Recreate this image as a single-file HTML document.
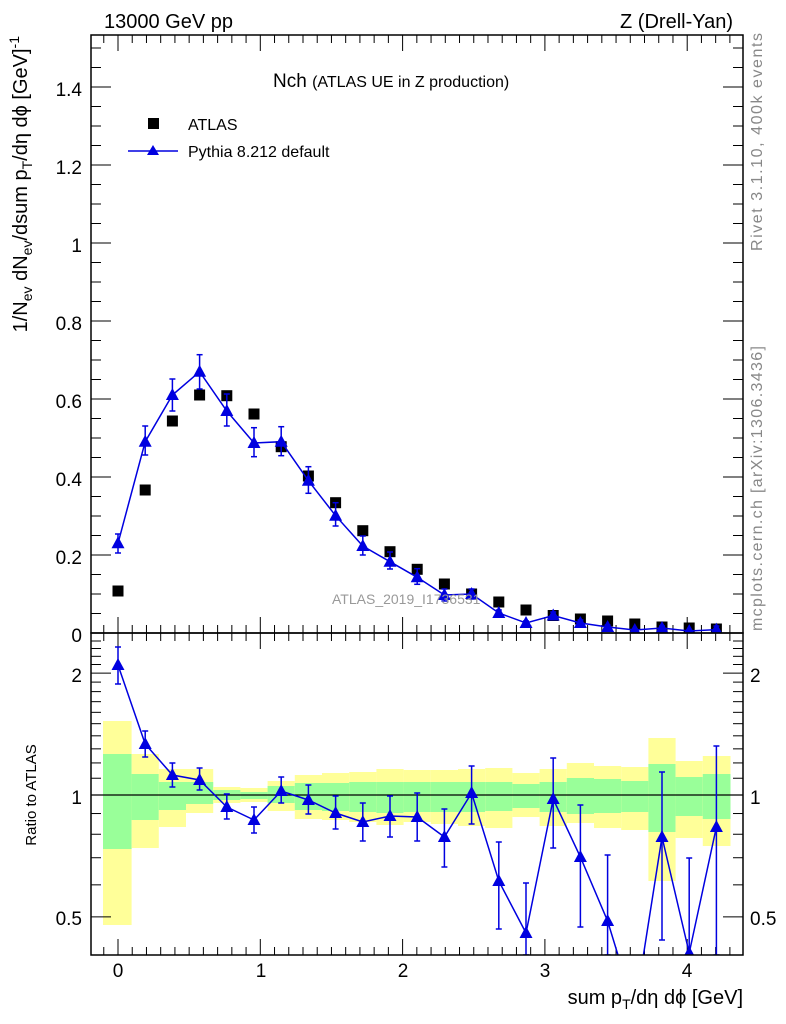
<!DOCTYPE html>
<html><head><meta charset="utf-8"><style>
html,body{margin:0;padding:0;background:#fff;}
svg{display:block;font-family:"Liberation Sans",sans-serif;}
</style></head><body>
<svg id="s" width="786" height="1024" xmlns="http://www.w3.org/2000/svg">
<defs>
<clipPath id="cr"><rect x="91" y="633" width="652" height="322"/></clipPath>
<clipPath id="cm"><rect x="91" y="35" width="652" height="598"/></clipPath>
</defs>
<g id="bands"></g>
<g id="ticks" stroke="#000" stroke-width="1"></g>
<line x1="91" y1="795" x2="743" y2="795" stroke="#000" stroke-width="1.2"/>
<g id="data"></g>
<rect x="91" y="35" width="652" height="598" fill="none" stroke="#000" stroke-width="1.5"/>
<rect x="91" y="633" width="652" height="322" fill="none" stroke="#000" stroke-width="1.5"/>
<text x="104" y="28" font-size="20">13000 GeV pp</text>
<text x="733" y="28" font-size="20" text-anchor="end">Z (Drell-Yan)</text>
<text x="273" y="87" font-size="19">Nch <tspan font-size="16">(ATLAS UE in Z production)</tspan></text>
<rect x="148" y="118" width="11" height="11" fill="#000"/>
<text x="188" y="130" font-size="16">ATLAS</text>
<line x1="128" y1="151" x2="178" y2="151" stroke="#0000e0" stroke-width="1.5"/>
<polygon points="153,145 159,155 147,155" fill="#0000e0"/>
<text x="188" y="157" font-size="16">Pythia 8.212 default</text>
<text x="332" y="604" font-size="14" fill="#999">ATLAS_2019_I1736531</text>
<g font-size="19" text-anchor="end">
<text x="82" y="642">0</text><text x="82" y="564">0.2</text><text x="82" y="486">0.4</text><text x="82" y="408">0.6</text><text x="82" y="330">0.8</text><text x="82" y="252">1</text><text x="82" y="174">1.2</text><text x="82" y="96">1.4</text>
<text x="82" y="682">2</text><text x="82" y="804">1</text><text x="82" y="925">0.5</text>
</g>
<g font-size="19">
<text x="750" y="682">2</text><text x="750" y="804">1</text><text x="750" y="925">0.5</text>
</g>
<g font-size="19" text-anchor="middle">
<text x="118" y="977">0</text><text x="261" y="977">1</text><text x="403" y="977">2</text><text x="545" y="977">3</text><text x="687" y="977">4</text>
</g>
<text x="743" y="1004" font-size="20" text-anchor="end">sum p<tspan font-size="14" dy="5">T</tspan><tspan dy="-5">/dη dϕ [GeV]</tspan></text>
<text transform="translate(27,36) rotate(-90)" font-size="20" text-anchor="end">1/N<tspan font-size="14" dy="5">ev</tspan><tspan dy="-5"> dN</tspan><tspan font-size="14" dy="5">ev</tspan><tspan dy="-5">/dsum p</tspan><tspan font-size="14" dy="5">T</tspan><tspan dy="-5">/dη dϕ  [GeV]</tspan><tspan font-size="14" dy="-8">-1</tspan></text>
<text transform="translate(36,795) rotate(-90)" font-size="15" text-anchor="middle">Ratio to ATLAS</text>
<text transform="translate(762,251) rotate(-90)" font-size="16" fill="#888" textLength="218" lengthAdjust="spacing">Rivet 3.1.10,  400k events</text>
<text transform="translate(762,631) rotate(-90)" font-size="16" fill="#888" textLength="285" lengthAdjust="spacing">mcplots.cern.ch [arXiv:1306.3436]</text>
</svg>
<script>
var NS="http://www.w3.org/2000/svg";
function el(p,t,a){var e=document.createElementNS(NS,t);for(var k in a)e.setAttribute(k,a[k]);p.appendChild(e);return e;}
var B=document.getElementById("bands"),T=document.getElementById("ticks"),D=document.getElementById("data");
var xs=[];for(var i=0;i<23;i++)xs.push(118+27.2*i);
var edges=[103];for(var i=0;i<22;i++)edges.push((xs[i]+xs[i+1])/2);edges.push(730.5);
var bd=[[721,754,849,925],[754,774,820,848],[769,782,810,827],[769,782,804,813],[787,790,800,803],[788,792,799,802],[781,786,803,811],[775,783,810,819],[773,783,811,820],[772,782,812,822],[769,782,813,825],[770,782,812,822],[770,782,812,824],[769,782,812,826],[768,782,811,828],[773,784,808,817],[769,782,812,826],[763,778,814,823],[766,779,813,828],[767,781,812,830],[738,764,832,881],[761,777,816,838],[756,774,819,846]];
for(var i=0;i<23;i++){var x0=edges[i],w=edges[i+1]-x0,b=bd[i];
el(B,"rect",{x:x0,y:b[0],width:w,height:b[3]-b[0],fill:"#ffff99"});
el(B,"rect",{x:x0,y:b[1],width:w,height:b[2]-b[1],fill:"#99ff99"});}
for(var k=-1;k<=43;k++){var v=k/10,x=118+142.3*v;if(x<92||x>742)continue;var L=(k%10==0)?16:8;
el(T,"line",{x1:x,y1:633,x2:x,y2:633-L});el(T,"line",{x1:x,y1:35,x2:x,y2:35+L});
el(T,"line",{x1:x,y1:955,x2:x,y2:955-L});el(T,"line",{x1:x,y1:633,x2:x,y2:633+L});}
for(var k=0;k<=30;k++){var y=633-390*k*0.05;if(y<36)continue;var L=(k%4==0)?20:10;
el(T,"line",{x1:91,y1:y,x2:91+L,y2:y});el(T,"line",{x1:743,y1:y,x2:743-L,y2:y});}
var rt=[0.4,0.5,0.6,0.7,0.8,0.9,1,1.1,1.2,1.3,1.4,1.5,1.6,1.7,1.8,1.9,2,2.1,2.2,2.3,2.4,2.5];
rt.forEach(function(r){var y=795-405*Math.log10(r);if(y<634||y>954)return;var L=(r==0.5||r==1||r==2)?20:10;
el(T,"line",{x1:91,y1:y,x2:91+L,y2:y});el(T,"line",{x1:743,y1:y,x2:743-L,y2:y});});
var atl=[591,490,421,395,395.7,414,446.7,476,502.7,530.7,551.7,569.3,584,594,602,610,615.5,619,621,624,627,628,629];
var mc=[543.3,441.7,395,371.7,411,443,441.7,480.7,515.7,546,561.7,577.3,595,594,613,623,615.5,623,627,630,628,631,629.6];
var me=[[534,553],[426,455],[379,411],[354.7,389],[394,426],[427.7,456.7],[426.7,455.7],[466.7,493.3],[502.7,526],[536,555],[552,569],[568.7,584.3],[589,601],[589,599],[610,616],[621,625],[612,619],[620,626],[625,629],[629,631],[626,630],[630,632],[626,632]];
var rp=[665,744,775,780,807,820,791,800,813,822,816,817,837,793,881,933,799,857,921,1010,837,953,827];
var re=[[647,684],[731,757],[763,787],[768,790],[794,819],[807,833],[777,803],[785,814],[796,829],[803,841],[796,837],[793,841],[809,867],[766,824],[842,929],[883,955],[758,848],[805,927],[855,955],null,[772,940],[858,955],[746,955]];
var C="#0000e0";
function tri(g,x,y){el(g,"polygon",{points:(x)+","+(y-7)+" "+(x+6.5)+","+(y+5)+" "+(x-6.5)+","+(y+5),fill:C});}
function err(g,x,a,b){el(g,"line",{x1:x,y1:a,x2:x,y2:b,stroke:C,"stroke-width":1.5});
el(g,"line",{x1:x-3,y1:a,x2:x+3,y2:a,stroke:C,"stroke-width":1.5});el(g,"line",{x1:x-3,y1:b,x2:x+3,y2:b,stroke:C,"stroke-width":1.5});}
var gm=el(D,"g",{"clip-path":"url(#cm)"});
atl.forEach(function(y,i){el(gm,"rect",{x:xs[i]-5.5,y:y-5.5,width:11,height:11,fill:"#000"});});
el(gm,"polyline",{points:xs.map(function(x,i){return x+","+mc[i];}).join(" "),fill:"none",stroke:C,"stroke-width":1.5});
mc.forEach(function(y,i){err(gm,xs[i],me[i][0],me[i][1]);tri(gm,xs[i],y);});
var gr=el(D,"g",{"clip-path":"url(#cr)"});
el(gr,"polyline",{points:xs.map(function(x,i){return x+","+rp[i];}).join(" "),fill:"none",stroke:C,"stroke-width":1.5});
rp.forEach(function(y,i){if(re[i])err(gr,xs[i],re[i][0],re[i][1]);tri(gr,xs[i],y);});
</script>
</body></html>
